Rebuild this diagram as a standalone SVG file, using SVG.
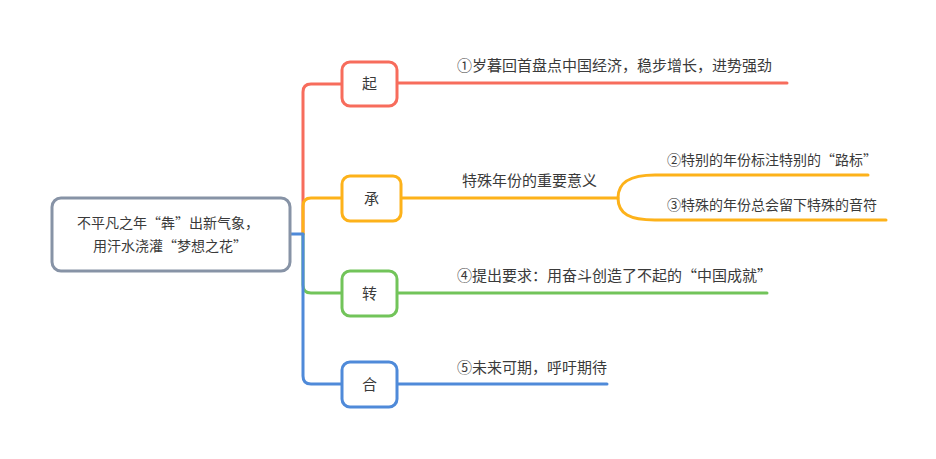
<svg xmlns="http://www.w3.org/2000/svg" width="936" height="459" viewBox="0 0 936 459">
<style>
text{font-family:"Noto Sans CJK SC","Liberation Sans",sans-serif;font-size:15px;fill:#3a3a3a}
.c{text-anchor:middle}
.rt{font-size:14px}
.ln{fill:none;stroke-width:3;stroke-linecap:round;stroke-linejoin:round}
.box{fill:#fff;stroke-width:3}
.r{stroke:#f76c5c}.o{stroke:#fdb21a}.g{stroke:#72c45a}.b{stroke:#4f8ad9}
</style>
<rect width="936" height="459" fill="#fff"/>
<g id="connectors">
<path class="ln r" d="M303 234 V92 Q303 84 311 84 H342"/>
<path class="ln o" d="M303 234 V206 Q303 198 311 198 H342"/>
<path class="ln g" d="M303 234 V285 Q303 293 311 293 H342"/>
<path class="ln b" d="M290 234 H303 V376 Q303 384 311 384 H342"/>
<path class="ln r" d="M397 83 H787"/>
<path class="ln o" d="M401 198 H618 C618 182 630 175 655 175 H868"/>
<path class="ln o" d="M618 198 C618 214 630 220 655 220 H886"/>
<path class="ln g" d="M397 293 H767"/>
<path class="ln b" d="M397 384 H607"/>
</g>
<g id="root">
<rect x="52" y="198" width="238" height="73" rx="9" fill="#fff" stroke="#8793a6" stroke-width="3"/>
<text class="c rt" x="168" y="228">不平凡之年“犇”出新气象，</text>
<text class="c rt" x="170" y="251">用汗水浇灌“梦想之花”</text>
</g>
<g id="n1">
<rect class="box r" x="342" y="62" width="55" height="44" rx="8"/>
<text class="c" x="369.5" y="89">起</text>
</g>
<g id="n2">
<rect class="box o" x="342" y="176" width="59" height="45" rx="8"/>
<text class="c" x="371.5" y="204">承</text>
</g>
<g id="n3">
<rect class="box g" x="342" y="271" width="55" height="45" rx="8"/>
<text class="c" x="369.5" y="299">转</text>
</g>
<g id="n4">
<rect class="box b" x="342" y="362" width="55" height="45" rx="8"/>
<text class="c" x="369.5" y="390">合</text>
</g>
<g id="t1"><text x="457" y="71">①岁暮回首盘点中国经济，稳步增长，进势强劲</text></g>
<g id="t2"><text x="462" y="186">特殊年份的重要意义</text></g>
<g id="t2a"><text class="rt" x="667" y="165">②特别的年份标注特别的“路标”</text></g>
<g id="t2b"><text class="rt" x="667" y="210">③特殊的年份总会留下特殊的音符</text></g>
<g id="t3"><text x="457" y="281">④提出要求：用奋斗创造了不起的“中国成就”</text></g>
<g id="t4"><text x="457" y="373">⑤未来可期，呼吁期待</text></g>
</svg>
